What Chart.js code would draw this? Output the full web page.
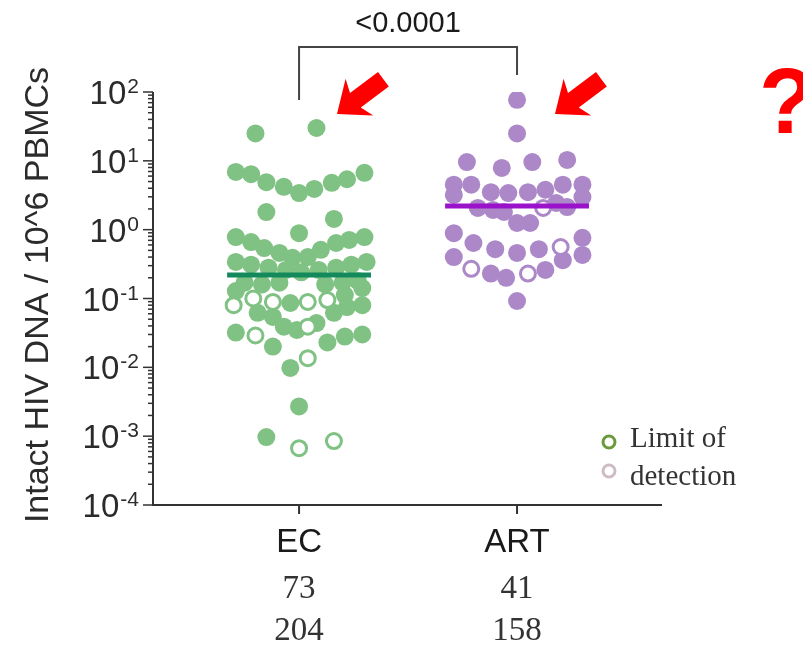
<!DOCTYPE html>
<html>
<head>
<meta charset="utf-8">
<script src="https://cdn.jsdelivr.net/npm/chart.js@4"></script>
<style>
  html, body { margin: 0; padding: 0; background: #fff; }
  #wrap { width: 803px; height: 648px; }
</style>
</head>
<body>
<div id="wrap"><canvas id="chart" width="803" height="648"></canvas></div>
<script>
// groups and the counts printed under them
const categories = ['EC', 'ART'];
const catPos = [1, 2];
const countsRow1 = ['73', '41'];
const countsRow2 = ['204', '158'];
const yExponents = [-4, -3, -2, -1, 0, 1, 2];
const pValue = '<0.0001';

// EC, detected (filled) - values and horizontal jitter (in group widths)
const ecFilled = [25, 30,
  6.9, 6.4, 4.9, 4.2, 3.4, 3.9, 4.8, 5.4, 6.7,
  1.8, 1.43, 0.89,
  0.78, 0.66, 0.54, 0.46, 0.39, 0.40, 0.51, 0.64, 0.71, 0.78,
  0.34, 0.31, 0.28, 0.26, 0.24, 0.26, 0.28, 0.31, 0.34,
  0.17, 0.16, 0.17, 0.16, 0.17, 0.18,
  0.128, 0.086, 0.112, 0.142, 0.080,
  0.062, 0.054, 0.039, 0.035, 0.044, 0.062, 0.075,
  0.032, 0.020, 0.023, 0.028, 0.030, 0.0098, 0.0027, 0.00097];
const ecFilledJitter = [-0.20, 0.08,
  -0.29, -0.22, -0.15, -0.07, 0, 0.07, 0.15, 0.22, 0.30,
  -0.15, 0.16, 0,
  -0.29, -0.22, -0.16, -0.09, -0.03, 0.04, 0.10, 0.17, 0.23, 0.30,
  -0.29, -0.22, -0.14, -0.06, 0.01, 0.09, 0.17, 0.24, 0.31,
  -0.25, -0.17, -0.09, 0.12, 0.20, 0.27,
  -0.29, -0.04, 0.21, 0.29, 0.29,
  -0.19, -0.12, -0.07, -0.01, 0.08, 0.16, 0.22,
  -0.29, -0.12, 0.13, 0.21, 0.29, -0.04, 0, -0.15];
// EC, below limit of detection (open)
const ecOpen = [0.080, 0.10, 0.089, 0.089, 0.095, 0.039, 0.029, 0.0136, 0.00067, 0.00085];
const ecOpenJitter = [-0.30, -0.21, -0.12, 0.04, 0.13, 0.04, -0.20, 0.04, 0, 0.16];

// ART
const artFilled = [77, 25,
  9.6, 7.9, 9.6, 10.3,
  4.5, 4.5, 3.5, 3.4, 3.5, 3.8, 4.5, 4.5,
  3.2, 2.07, 1.93, 1.81, 2.44, 2.13, 2.98,
  1.25, 1.25,
  0.89, 0.64, 0.52, 0.46, 0.52, 0.76,
  0.40, 0.23, 0.20, 0.26, 0.36, 0.43,
  0.092];
const artFilledJitter = [0, 0,
  -0.23, -0.07, 0.07, 0.23,
  -0.29, -0.21, -0.12, -0.04, 0.05, 0.13, 0.21, 0.30,
  -0.29, -0.18, -0.11, -0.06, 0.18, 0.23, 0.30,
  0, 0.06,
  -0.29, -0.20, -0.10, 0, 0.10, 0.30,
  -0.29, -0.12, -0.05, 0.13, 0.21, 0.30,
  0];
const artOpen = [2.07, 0.56, 0.27, 0.23];
const artOpenJitter = [0.12, 0.20, -0.21, 0.05];

// medians
const medians = [0.22, 2.2];

const GREEN = 'rgb(127,194,131)';
const PURPLE = 'rgb(172,136,201)';
const AXIS = '#333';

function pts(vals, jit, c) {
  return vals.map((v, i) => ({ x: c + jit[i], y: v }));
}
function medianLine(i) {
  return [{ x: catPos[i] - 0.33, y: medians[i] }, { x: catPos[i] + 0.33, y: medians[i] }];
}

// axes, labels and annotations drawn by hand
const decorations = {
  id: 'decorations',
  afterDraw(chart) {
    const ctx = chart.ctx;
    const xs = chart.scales.x, ys = chart.scales.y;
    const area = chart.chartArea;
    ctx.save();

    // axis lines
    ctx.strokeStyle = AXIS;
    ctx.lineWidth = 2;
    ctx.beginPath();
    ctx.moveTo(area.left, area.top);
    ctx.lineTo(area.left, area.bottom);
    ctx.lineTo(area.right, area.bottom);
    ctx.stroke();

    // y ticks: decades + minor
    ctx.lineWidth = 1.5;
    yExponents.forEach(e => {
      const y = ys.getPixelForValue(Math.pow(10, e));
      ctx.beginPath();
      ctx.moveTo(area.left - 10, y);
      ctx.lineTo(area.left, y);
      ctx.stroke();
      if (e < 2) {
        for (let m = 2; m <= 9; m++) {
          const ym = ys.getPixelForValue(m * Math.pow(10, e));
          ctx.beginPath();
          ctx.moveTo(area.left - 5, ym);
          ctx.lineTo(area.left + 1, ym);
          ctx.stroke();
        }
      }
      // label 10^e
      const sup = String(e);
      ctx.fillStyle = '#2b2b2b';
      ctx.textBaseline = 'alphabetic';
      ctx.textAlign = 'left';
      ctx.font = '21px Arial, "Liberation Sans", sans-serif';
      const ws = ctx.measureText(sup).width;
      ctx.font = '33px Arial, "Liberation Sans", sans-serif';
      const wb = ctx.measureText('10').width;
      const right = area.left - 14;
      ctx.fillText('10', right - ws - 1 - wb, y + 12);
      ctx.font = '21px Arial, "Liberation Sans", sans-serif';
      ctx.fillText(sup, right - ws, y + 1);
    });

    // y title
    ctx.save();
    ctx.translate(39, 295);
    ctx.rotate(-Math.PI / 2);
    ctx.font = '34px Arial, "Liberation Sans", sans-serif';
    ctx.fillStyle = '#2b2b2b';
    ctx.textAlign = 'center';
    ctx.textBaseline = 'middle';
    ctx.fillText('Intact HIV DNA / 10^6 PBMCs', 0, 0);
    ctx.restore();

    // x ticks and labels
    ctx.lineWidth = 2;
    categories.forEach((c, i) => {
      const x = xs.getPixelForValue(catPos[i]);
      ctx.beginPath();
      ctx.moveTo(x, area.bottom);
      ctx.lineTo(x, area.bottom + 9);
      ctx.stroke();
      ctx.textAlign = 'center';
      ctx.textBaseline = 'alphabetic';
      ctx.fillStyle = '#1a1a1a';
      ctx.font = '33px Arial, "Liberation Sans", sans-serif';
      ctx.fillText(c, x, area.bottom + 47);
      ctx.fillStyle = '#333';
      ctx.font = '33px "Liberation Serif", "Times New Roman", serif';
      ctx.fillText(countsRow1[i], x, area.bottom + 93);
      ctx.fillText(countsRow2[i], x, area.bottom + 135);
    });

    // significance bracket
    const x1 = xs.getPixelForValue(catPos[0]);
    const x2 = xs.getPixelForValue(catPos[1]);
    ctx.strokeStyle = '#444';
    ctx.lineWidth = 2;
    ctx.beginPath();
    ctx.moveTo(x1, area.top + 8);
    ctx.lineTo(x1, 47);
    ctx.lineTo(x2, 47);
    ctx.lineTo(x2, 75);
    ctx.stroke();
    ctx.fillStyle = '#1a1a1a';
    ctx.font = '29px Arial, "Liberation Sans", sans-serif';
    ctx.textAlign = 'center';
    ctx.fillText(pValue, (x1 + x2) / 2, 32);

    // legend
    ctx.lineWidth = 3;
    ctx.fillStyle = '#fff';
    ctx.strokeStyle = '#6b9a3c';
    ctx.beginPath(); ctx.arc(609, 442, 6, 0, Math.PI * 2); ctx.fill(); ctx.stroke();
    ctx.strokeStyle = '#cdbcc6';
    ctx.beginPath(); ctx.arc(609, 471, 6, 0, Math.PI * 2); ctx.fill(); ctx.stroke();
    ctx.fillStyle = '#333';
    ctx.textAlign = 'left';
    ctx.font = '29px "Liberation Serif", "Times New Roman", serif';
    ctx.fillText('Limit of', 630, 447);
    ctx.fillText('detection', 630, 485);

    // red arrows
    function arrow(tx, ty) {
      ctx.save();
      ctx.translate(tx, ty);
      ctx.rotate(Math.atan2(0.75, -1));
      ctx.fillStyle = '#ff0000';
      ctx.beginPath();
      ctx.moveTo(0, 0);
      ctx.lineTo(-28, -23);
      ctx.lineTo(-23, -9);
      ctx.lineTo(-58, -9);
      ctx.lineTo(-58, 9);
      ctx.lineTo(-23, 9);
      ctx.lineTo(-28, 23);
      ctx.closePath();
      ctx.fill();
      ctx.restore();
    }
    arrow(337, 114);
    arrow(555, 114);

    ctx.fillStyle = '#ff0000';
    ctx.font = 'bold 92px Arial, "Liberation Sans", sans-serif';
    ctx.textAlign = 'center';
    ctx.fillText('?', 787, 133);

    ctx.restore();
  }
};

new Chart(document.getElementById('chart'), {
  type: 'scatter',
  data: {
    datasets: [
      { type: 'line', data: medianLine(0), borderColor: '#13895c', borderWidth: 5, pointRadius: 0, order: 0 },
      { type: 'line', data: medianLine(1), borderColor: '#9a12c9', borderWidth: 5, pointRadius: 0, order: 0 },
      { data: pts(ecOpen, ecOpenJitter, catPos[0]), backgroundColor: '#fff', borderColor: GREEN, borderWidth: 3, pointRadius: 7.5, order: 1 },
      { data: pts(artOpen, artOpenJitter, catPos[1]), backgroundColor: '#fff', borderColor: PURPLE, borderWidth: 3, pointRadius: 7.5, order: 1 },
      { data: pts(ecFilled, ecFilledJitter, catPos[0]), backgroundColor: GREEN, borderWidth: 0, pointRadius: 9, order: 2 },
      { data: pts(artFilled, artFilledJitter, catPos[1]), backgroundColor: PURPLE, borderWidth: 0, pointRadius: 9, order: 2 }
    ]
  },
  options: {
    responsive: false,
    animation: false,
    layout: { padding: { left: 153, top: 92, right: 141, bottom: 143 } },
    plugins: { legend: { display: false }, tooltip: { enabled: false } },
    scales: {
      x: { type: 'linear', min: 0.33, max: 2.665, display: false },
      y: { type: 'logarithmic', min: 1e-4, max: 100, display: false }
    }
  },
  plugins: [decorations]
});
</script>
</body>
</html>
